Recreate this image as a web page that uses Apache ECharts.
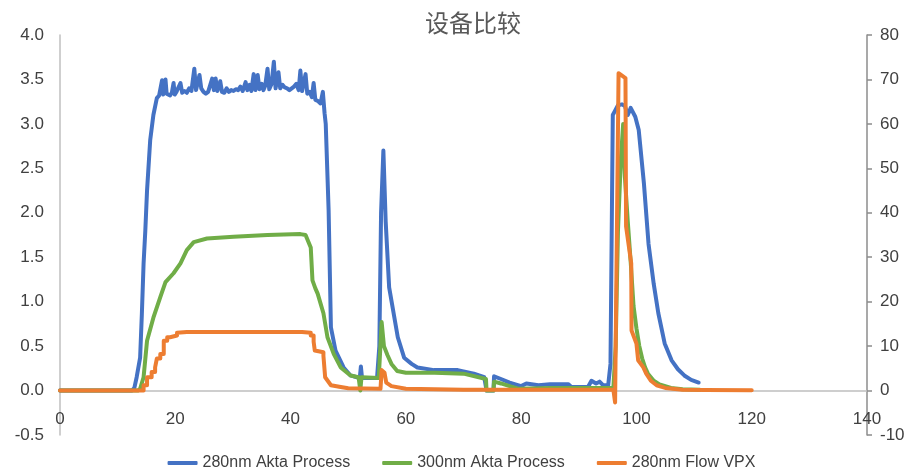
<!DOCTYPE html>
<html>
<head>
<meta charset="utf-8">
<script src="https://cdn.jsdelivr.net/npm/echarts@6/dist/echarts.min.js"></script>
<style>html,body{margin:0;padding:0;background:#fff;}#c{width:923px;height:474px;}</style>
</head>
<body>
<div id="c"></div>
<script>
const chartTitle = '设备比较';
const seriesNames = ['280nm Akta Process', '300nm Akta Process', '280nm Flow VPX'];
const xTicks = { min: 0, max: 140, interval: 20 };
const leftTicks = { min: -0.5, max: 4.0, interval: 0.5 };
const rightTicks = { min: -10, max: 80, interval: 10 };

// 280nm Akta Process (left axis) [time, absorbance]
const akta280 = [
  [0,0],[12.5,0],[12.9,0.03],[13.3,0.15],[13.9,0.37],[14.2,0.86],[14.5,1.43],[14.8,1.8],[15.1,2.25],[15.65,2.82],[16.2,3.1],[16.8,3.29],
  [17.2,3.32],[17.5,3.3],[17.7,3.49],[17.9,3.33],[18.3,3.5],[18.5,3.34],[18.8,3.36],[19.1,3.32],[19.4,3.35],[19.7,3.46],[19.9,3.33],
  [20.2,3.36],[20.5,3.34],[20.9,3.46],[21.2,3.35],[21.6,3.37],[22.0,3.35],[22.4,3.4],[22.8,3.37],[23.3,3.62],[23.6,3.38],[24.2,3.55],
  [24.5,3.4],[24.9,3.36],[25.3,3.34],[25.7,3.36],[26.0,3.35],[26.4,3.51],[26.7,3.38],[27.0,3.51],[27.3,3.37],[27.8,3.48],[28.1,3.36],
  [28.5,3.35],[28.9,3.4],[29.3,3.36],[29.7,3.38],[30.1,3.37],[30.5,3.39],[30.9,3.38],[31.3,3.42],[31.7,3.37],[32.2,3.47],[32.5,3.38],
  [32.9,3.44],[33.2,3.37],[33.6,3.56],[33.9,3.38],[34.3,3.55],[34.6,3.39],[35.0,3.45],[35.3,3.38],[35.6,3.43],[36.0,3.62],[36.3,3.39],
  [36.7,3.45],[37.1,3.7],[37.4,3.4],[37.9,3.58],[38.2,3.4],[38.6,3.44],[39.0,3.41],[39.4,3.4],[39.8,3.38],[40.2,3.4],[40.6,3.42],
  [41.0,3.45],[41.4,3.38],[41.7,3.6],[42.0,3.37],[42.6,3.56],[42.9,3.34],[43.3,3.36],[43.7,3.3],[44.0,3.46],[44.3,3.27],[44.7,3.26],
  [45.2,3.23],[45.6,3.36],[45.9,3.12],[46.1,3.0],[46.6,2.03],[47.0,0.71],[47.8,0.45],[49.2,0.26],[50.4,0.17],[51.5,0.15],[52.0,0.14],
  [52.2,0.27],[52.4,0.14],[53.5,0.14],[55.0,0.14],[55.4,0.5],[55.7,2.0],[56.1,2.7],[56.5,1.9],[57.1,1.16],[58.6,0.6],[59.7,0.37],
  [61,0.3],[62,0.26],[64.9,0.23],[67,0.23],[69,0.23],[71.8,0.19],[73.6,0.15],[73.9,0.14],[74.0,0.0],[75.2,0.0],[75.3,0.16],[76.5,0.13],
  [78,0.09],[80,0.05],[80.9,0.08],[83,0.06],[85,0.07],[88.2,0.07],[88.7,0.04],[91.6,0.04],[92.2,0.11],[93,0.08],[93.6,0.1],[94.2,0.06],
  [95.1,0.06],[95.5,0.3],[95.9,3.1],[96.3,3.15],[96.8,3.21],[97.5,3.22],[98.0,3.2],[98.5,3.1],[99.0,3.18],[99.8,3.08],[100.4,2.93],
  [101.3,2.33],[102.1,1.65],[103.0,1.2],[103.8,0.87],[104.9,0.53],[106.1,0.34],[107.2,0.24],[108.3,0.17],[109.5,0.12],[110.8,0.09]
];

// 300nm Akta Process (left axis)
const akta300 = [
  [0,0],[13.5,0],[13.9,0.02],[14.5,0.15],[15.1,0.56],[16.2,0.82],[17.4,1.05],[18.3,1.22],[19.7,1.32],[20.9,1.43],[22.0,1.58],
  [23.2,1.67],[25.5,1.71],[30.1,1.73],[36,1.75],[41.7,1.76],[42.6,1.75],[43.5,1.61],[43.8,1.24],[44.3,1.15],[44.7,1.09],[45.7,0.87],
  [46.4,0.6],[47.5,0.41],[48.7,0.26],[50.4,0.17],[51.8,0.15],[52.0,0.15],[52.1,0.0],[52.3,0.15],[55.3,0.14],[55.8,0.77],[56.2,0.5],
  [56.8,0.4],[57.5,0.3],[58.5,0.22],[60,0.2],[65,0.2],[70,0.19],[73.9,0.13],[74.0,0.0],[75.2,0.0],[75.3,0.1],[76.5,0.08],[78,0.05],
  [79.5,0.02],[85,0.03],[95,0.03],[96.0,0.03],[96.4,0.5],[96.8,1.8],[97.3,2.6],[97.7,3.0],[98.0,2.4],[98.5,1.9],[99.0,1.45],
  [99.5,0.95],[100,0.7],[100.5,0.5],[101,0.36],[101.5,0.26],[102,0.19],[103,0.11],[104,0.07],[106,0.03],[108,0.015],[111,0.01]
];

// 280nm Flow VPX (right axis)
const flowVpx = [
  [0,0],[13.9,0],[14.5,0],[14.5,1.2],[15.1,1.2],[15.1,3.0],[15.9,3.0],[15.9,4.2],[16.5,4.2],[16.5,5.2],[16.8,5.2],[16.8,7.2],
  [17.4,7.2],[17.4,8.2],[18.0,8.2],[18.0,11.2],[18.6,11.2],[18.6,12.0],[19.1,12.0],[19.1,12.4],[20.3,12.4],[20.3,13.0],[22,13.2],
  [42,13.2],[43.5,13.0],[43.5,12.4],[44.0,12.4],[44.0,11.0],[44.2,11.0],[44.2,9.0],[45.7,8.6],[45.7,7.8],[46.0,7.8],[46.0,3.0],
  [47,1.2],[48.7,0.8],[50,0.5],[55.6,0.4],[55.8,4.6],[56.3,4.0],[56.6,1.8],[57.5,1.0],[60,0.4],[70,0.2],[96.0,0.2],[96.2,0],
  [96.3,-2.7],[96.9,71.4],[98.1,70.3],[98.2,37],[99.1,28.6],[99.15,13.5],[100,10.6],[100.3,6.8],[101.2,5.2],[101.7,3.8],
  [102.5,2.2],[103.5,1.2],[105,0.6],[108,0.2],[112,0.1],[120,0.05]
];

const colors = ['#4472C4', '#70AD47', '#ED7D31'];
const txt = '#404040';
const fam = '"Liberation Sans", "DejaVu Sans", sans-serif';

const gridTop = 35, gridBottom = 39, H = 474;
const plotH = H - gridTop - gridBottom;
// distance from grid bottom (y = -0.5) up to y = 0
const zeroOffset = plotH * (0 - leftTicks.min) / (leftTicks.max - leftTicks.min);

const chart = echarts.init(document.getElementById('c'), null, { renderer: 'canvas' });
function mk(name, data, color, yi) {
  return {
    name: name, type: 'line', data: data, yAxisIndex: yi,
    showSymbol: false, symbol: 'none', smooth: false,
    lineStyle: { color: color, width: 4, join: 'round', cap: 'round' },
    itemStyle: { color: color }, animation: false, z: 2
  };
}
chart.setOption({
  animation: false,
  color: colors,
  title: {
    text: chartTitle, left: 420, top: 6,
    textStyle: { fontFamily: '"Noto Sans CJK SC", sans-serif', fontSize: 24, fontWeight: 'normal', color: '#595959' }
  },
  legend: {
    bottom: -2, left: 'center', itemGap: 32, itemWidth: 30, itemHeight: 4, icon: 'roundRect',
    textStyle: { fontFamily: fam, fontSize: 16, color: txt },
    data: seriesNames
  },
  grid: { left: 60, right: 56, top: gridTop, bottom: gridBottom, containLabel: false },
  xAxis: {
    type: 'value', min: xTicks.min, max: xTicks.max, interval: xTicks.interval,
    offset: -zeroOffset,
    axisLine: { onZero: false, lineStyle: { color: '#BFBFBF', width: 1.5 } },
    axisTick: { show: false },
    splitLine: { show: false },
    axisLabel: { fontFamily: fam, fontSize: 17, color: txt, margin: 20 }
  },
  yAxis: [
    {
      type: 'value', min: leftTicks.min, max: leftTicks.max, interval: leftTicks.interval,
      axisLine: { show: true, onZero: false, lineStyle: { color: '#BFBFBF', width: 1.5 } },
      axisTick: { show: false }, splitLine: { show: false },
      axisLabel: { fontFamily: fam, fontSize: 17, color: txt, margin: 16, formatter: v => v.toFixed(1) }
    },
    {
      type: 'value', position: 'right', min: rightTicks.min, max: rightTicks.max, interval: rightTicks.interval,
      axisLine: { show: true, onZero: false, lineStyle: { color: '#8C8C8C', width: 1.5 } },
      axisTick: { show: true, length: 5, lineStyle: { color: '#8C8C8C', width: 1.5 } }, splitLine: { show: false },
      axisLabel: { fontFamily: fam, fontSize: 17, color: txt, margin: 13 }
    }
  ],
  series: [
    mk(seriesNames[0], akta280, colors[0], 0),
    mk(seriesNames[1], akta300, colors[1], 0),
    mk(seriesNames[2], flowVpx, colors[2], 1)
  ]
});
</script>
</body>
</html>
